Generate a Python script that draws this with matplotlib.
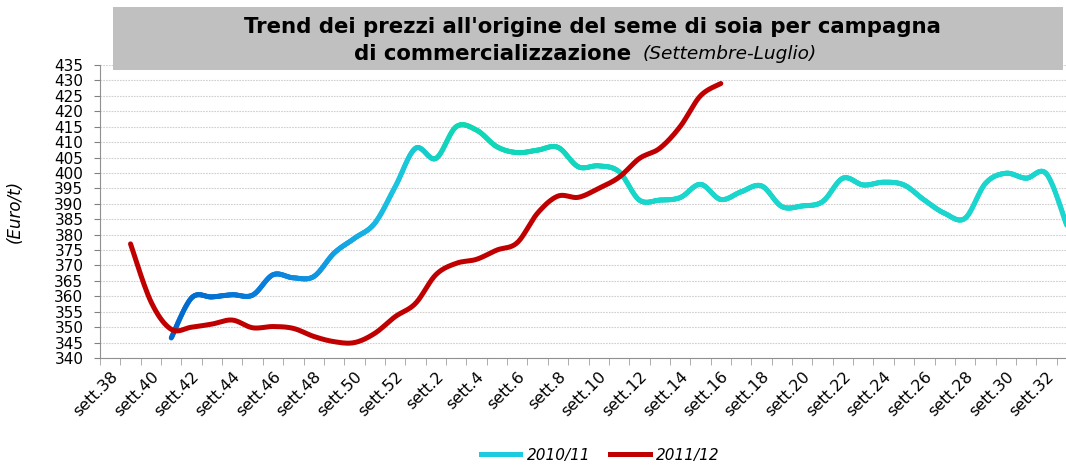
# Trend dei prezzi all'origine del seme di soia
import numpy as np
import matplotlib
matplotlib.use('Agg')
import matplotlib.pyplot as plt
from matplotlib.collections import LineCollection
from matplotlib.colors import LinearSegmentedColormap
from matplotlib.lines import Line2D
from matplotlib.patches import Rectangle

# weeks of the marketing year (sett.38 .. sett.33)
weeks = list(range(38, 53)) + list(range(1, 34))
week_labels = ['sett.%d' % w for w in weeks]

# 2010/11 starts at sett.41 (index 3)
start_1011 = 3
prices_1011 = [346.5, 359.5, 359.8, 360.5, 360.4, 367.0, 366.0, 366.4, 374.0,
               378.8, 383.7, 395.5, 408.0, 404.7, 415.0, 413.9, 408.5, 406.6,
               407.4, 408.3, 402.0, 402.3, 400.4, 391.2, 391.2, 392.0, 396.3,
               391.4, 393.9, 395.8, 389.1, 389.3, 390.7, 398.3, 396.1, 397.0,
               396.1, 391.2, 386.9, 385.3, 396.6, 399.9, 398.3, 399.7, 383.0]

# 2011/12 starts at sett.39 (index 1)
start_1112 = 1
prices_1112 = [377.0, 358.3, 349.3, 350.0, 351.0, 352.3, 349.8, 350.2, 349.6,
               347.0, 345.3, 345.0, 348.0, 353.4, 357.7, 367.0, 370.7, 372.0,
               375.0, 377.4, 387.0, 392.5, 392.1, 395.0, 398.6, 404.7, 408.0,
               415.0, 425.0, 429.0]

series_names = ['2010/11', '2011/12']


def smooth(x, y, n=20):
    # catmull-rom curve through the points, like Excel's smoothed line
    x = np.asarray(x, float)
    y = np.asarray(y, float)
    px, py = [], []
    for i in range(len(x) - 1):
        i0 = max(i - 1, 0)
        i3 = min(i + 2, len(x) - 1)
        t = np.linspace(0, 1, n, endpoint=False)
        for arr, out in ((x, px), (y, py)):
            p0, p1, p2, p3 = arr[i0], arr[i], arr[i + 1], arr[i3]
            out.extend(0.5 * ((2 * p1) + (-p0 + p2) * t
                              + (2 * p0 - 5 * p1 + 4 * p2 - p3) * t ** 2
                              + (-p0 + 3 * p1 - 3 * p2 + p3) * t ** 3))
    px.append(x[-1])
    py.append(y[-1])
    return np.array(px), np.array(py)


fig = plt.figure(figsize=(10.66, 4.66), dpi=100)
ax = fig.add_axes([100 / 1066, 1 - 358 / 466, 977 / 1066, 293 / 466])

# 2010/11 with gradient colour (blue -> cyan -> teal)
x1 = np.arange(len(prices_1011)) + start_1011
sx, sy = smooth(x1, prices_1011)
pts = np.column_stack([sx, sy]).reshape(-1, 1, 2)
segs = np.concatenate([pts[:-1], pts[1:]], axis=1)
cmap = LinearSegmentedColormap.from_list('g', [
    (0.0, '#0068cc'), (0.11, '#0a80dc'), (0.2, '#16a8e4'), (0.25, '#1cc4e0'),
    (0.32, '#10d8b4'), (0.42, '#12d6bc'), (0.55, '#1ad6cc'), (1.0, '#1ad6cf')])
lc = LineCollection(segs, cmap=cmap, norm=plt.Normalize(start_1011, 47),
                    linewidth=3.6, capstyle='round', joinstyle='round', zorder=3)
lc.set_array(sx[:-1])
ax.add_collection(lc)

# 2011/12
x2 = np.arange(len(prices_1112)) + start_1112
rx, ry = smooth(x2, prices_1112)
ax.plot(rx, ry, color='#c00000', lw=3.6, solid_capstyle='round', zorder=4)

ax.set_xlim(-0.5, 47.5)
ax.set_ylim(340, 435)
ax.set_yticks(np.arange(340, 436, 5))
ax.tick_params(axis='y', labelsize=11, length=4, color='#808080', pad=8)
ax.set_xticks(np.arange(0, len(weeks), 2))
ax.set_xticklabels(week_labels[::2], rotation=45, ha='right',
                   rotation_mode='anchor', fontsize=11.5)
ax.set_xticks(np.arange(-0.5, len(weeks), 1), minor=True)
ax.tick_params(axis='x', which='major', length=0, pad=8)
ax.tick_params(axis='x', which='minor', length=5, color='#a0a0a0')
ax.grid(axis='y', color='#d0d0d0', linestyle=(0, (1.5, 1)), linewidth=0.8)
ax.set_axisbelow(True)
for s in ['top', 'right']:
    ax.spines[s].set_visible(False)
for s in ['left', 'bottom']:
    ax.spines[s].set_color('#909090')
ax.set_ylabel('(Euro/t)', fontsize=12, style='italic', labelpad=22)

# title box
fig.add_artist(Rectangle((113 / 1066, 1 - 70 / 466), 950 / 1066, 63 / 466,
                         transform=fig.transFigure, facecolor='#c0c0c0',
                         edgecolor='none', zorder=5))
fig.text(592 / 1066, 1 - 27 / 466,
         "Trend dei prezzi all'origine del seme di soia per campagna",
         ha='center', va='center', fontsize=15.3, fontweight='bold', zorder=6)
fig.text(631 / 1066, 1 - 54 / 466, 'di commercializzazione',
         ha='right', va='center', fontsize=15.3, fontweight='bold', zorder=6)
fig.text(643 / 1066, 1 - 54 / 466, '(Settembre-Luglio)',
         ha='left', va='center', fontsize=13.3, style='italic', zorder=6)

# legend
handles = [Line2D([], [], color='#1ccbe0', lw=3.6),
           Line2D([], [], color='#c00000', lw=3.6)]
fig.legend(handles, series_names, loc='lower center', ncol=2, frameon=False,
           bbox_to_anchor=(0.563, -0.022), prop={'style': 'italic', 'size': 11},
           handlelength=2.6, columnspacing=1.3, handletextpad=0.4)

fig.savefig('out.png', dpi=100)
